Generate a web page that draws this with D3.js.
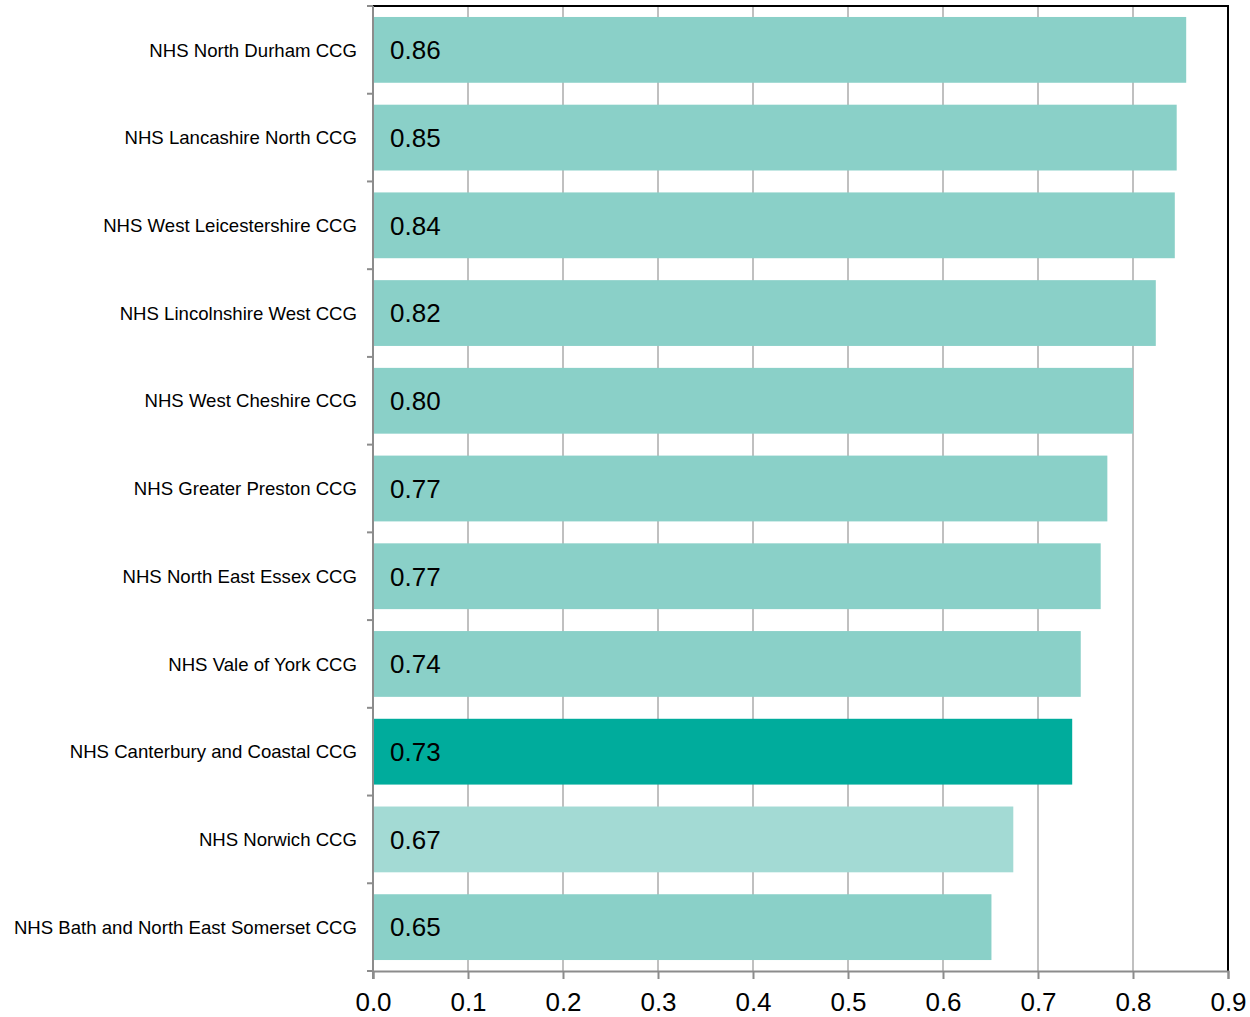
<!DOCTYPE html>
<html><head><meta charset="utf-8">
<script src="https://cdn.jsdelivr.net/npm/d3@7"></script>
<style>body{margin:0;background:#fff;font-family:"Liberation Sans",Arial,sans-serif;}</style>
</head><body><svg id="c" width="1250" height="1017"></svg>
<script>
const categories = ["NHS North Durham CCG","NHS Lancashire North CCG","NHS West Leicestershire CCG","NHS Lincolnshire West CCG","NHS West Cheshire CCG","NHS Greater Preston CCG","NHS North East Essex CCG","NHS Vale of York CCG","NHS Canterbury and Coastal CCG","NHS Norwich CCG","NHS Bath and North East Somerset CCG"];
const values = [0.856,0.846,0.844,0.824,0.800,0.773,0.766,0.745,0.736,0.674,0.651];
const labels = ["0.86","0.85","0.84","0.82","0.80","0.77","0.77","0.74","0.73","0.67","0.65"];
const barColors = ["#8ad0c8","#8ad0c8","#8ad0c8","#8ad0c8","#8ad0c8","#8ad0c8","#8ad0c8","#8ad0c8","#00ac9c","#a3dad4","#8ad0c8"];
const xTicks = [0,0.1,0.2,0.3,0.4,0.5,0.6,0.7,0.8,0.9];

const m = {l:373, r:1228, t:6, b:971};
const svg = d3.select("#c");
const x = d3.scaleLinear().domain([0,0.9]).range([m.l,m.r]);
const y = d3.scaleBand().domain(categories).range([m.t,m.b]).paddingInner(0.25).paddingOuter(0.125);

svg.append("g").selectAll("line").data(xTicks.slice(1)).join("line")
  .attr("x1",d=>x(d)).attr("x2",d=>x(d)).attr("y1",m.t).attr("y2",m.b)
  .attr("stroke","#c0c0c0").attr("stroke-width",2);

svg.append("g").selectAll("rect").data(categories).join("rect")
  .attr("x",x(0)).attr("y",d=>y(d)).attr("height",y.bandwidth())
  .attr("width",(d,i)=>x(values[i])-x(0)).attr("fill",(d,i)=>barColors[i]);

svg.append("g").selectAll("text").data(categories).join("text")
  .attr("x",x(0)+17).attr("y",d=>y(d)+y.bandwidth()/2).attr("dy","0.36em")
  .attr("font-size",26).attr("fill","#000").text((d,i)=>labels[i]);

svg.append("line").attr("x1",m.l).attr("x2",m.r+1).attr("y1",m.t).attr("y2",m.t).attr("stroke","#000").attr("stroke-width",2);
svg.append("line").attr("x1",m.r).attr("x2",m.r).attr("y1",m.t).attr("y2",m.b).attr("stroke","#000").attr("stroke-width",2);

const xa = svg.append("g").attr("transform",`translate(0,${m.b})`)
  .call(d3.axisBottom(x).tickValues(xTicks).tickFormat(d3.format(".1f")).tickSize(8).tickPadding(14));
xa.select(".domain").attr("stroke","#8c8c8c").attr("stroke-width",2);
xa.selectAll(".tick line").attr("stroke","#8c8c8c").attr("stroke-width",2);
xa.selectAll("text").attr("font-size",26).attr("fill","#000").attr("font-family","Liberation Sans, Arial, sans-serif");

const bounds = d3.range(categories.length+1).map(i=>m.t + i*(m.b-m.t)/categories.length);
svg.append("line").attr("x1",m.l).attr("x2",m.l).attr("y1",m.t).attr("y2",m.b+8).attr("stroke","#8c8c8c").attr("stroke-width",2);
svg.append("g").selectAll("line").data(bounds).join("line")
  .attr("x1",m.l-6).attr("x2",m.l).attr("y1",d=>d).attr("y2",d=>d).attr("stroke","#8c8c8c").attr("stroke-width",2);
svg.append("g").selectAll("text").data(categories).join("text")
  .attr("x",357).attr("y",d=>y(d)+y.bandwidth()/2).attr("dy","0.36em")
  .attr("text-anchor","end").attr("font-size",18.6).attr("fill","#000").text(d=>d);
</script></body></html>
